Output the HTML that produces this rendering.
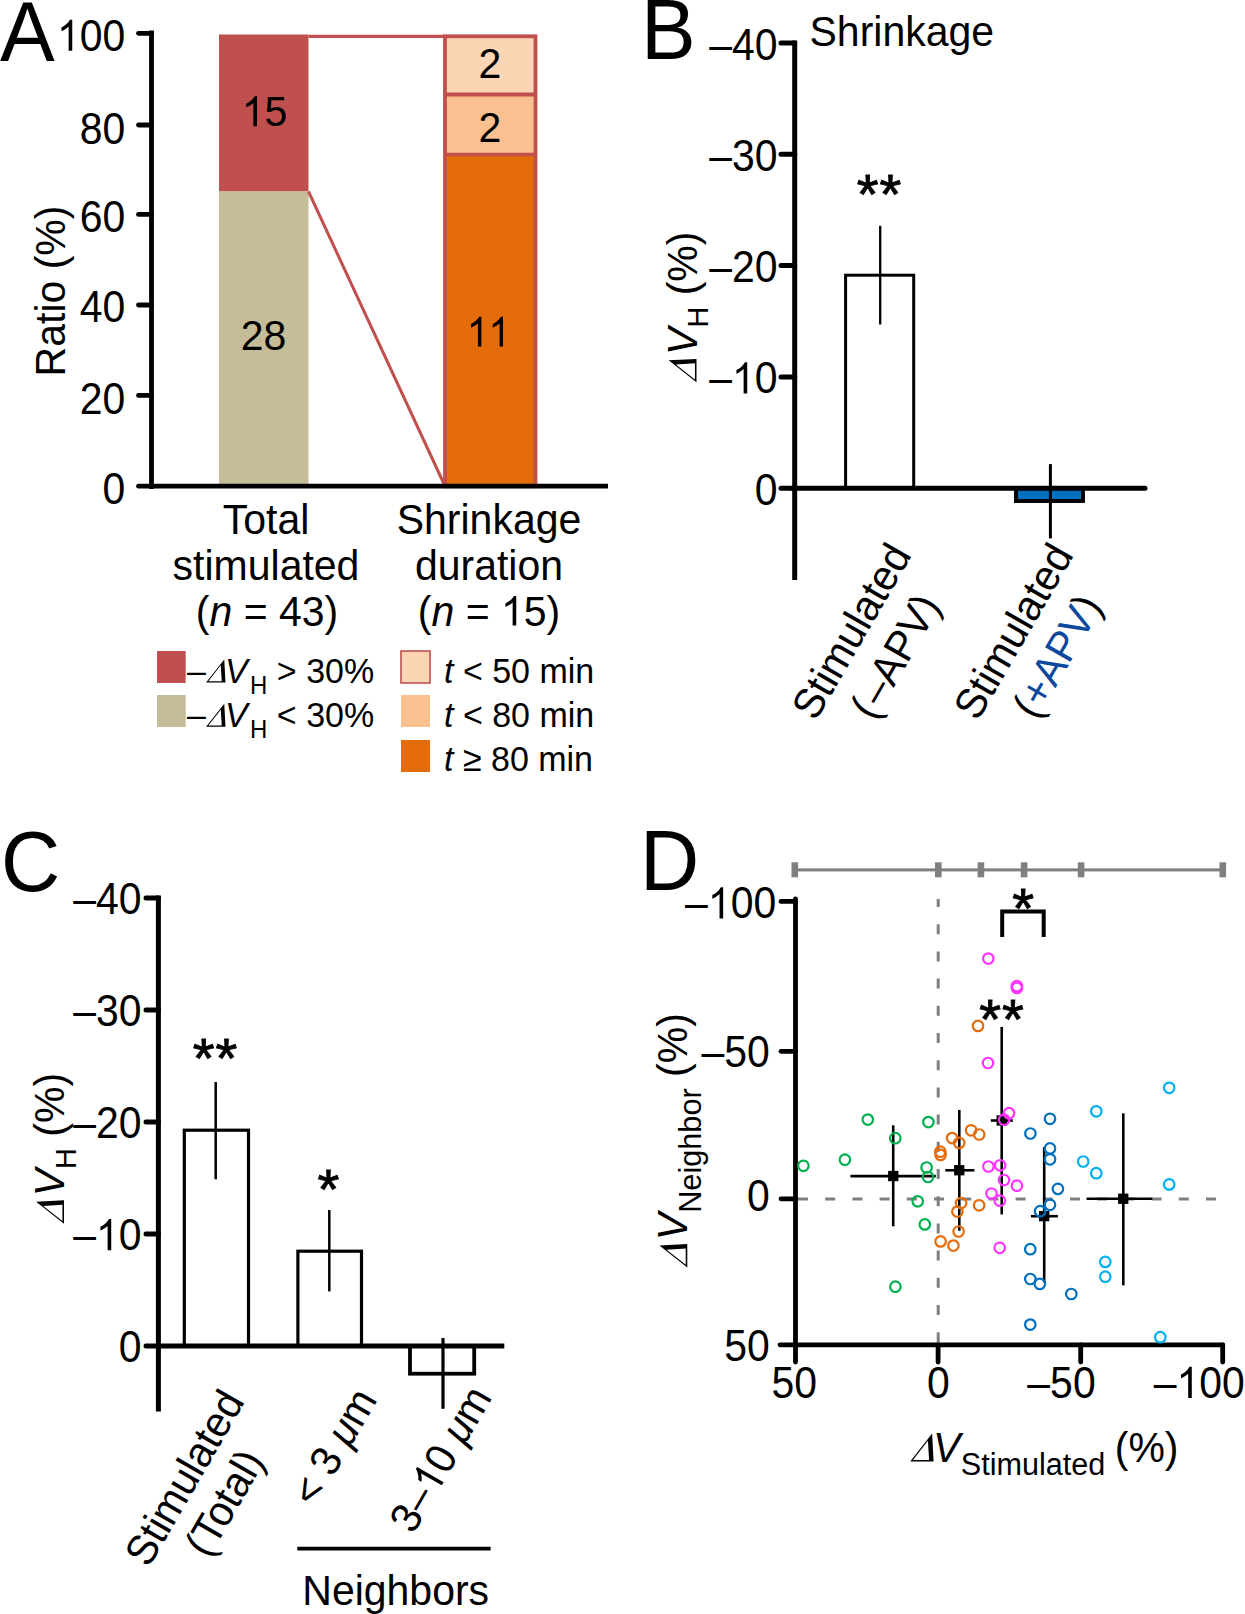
<!DOCTYPE html>
<html><head><meta charset="utf-8">
<style>
html,body{margin:0;padding:0;background:#fff;}
svg{display:block;}
text{font-family:"Liberation Sans",sans-serif;fill:#000;}
.it{font-style:italic;}
.one,.dl{fill-opacity:0;}
.ast{stroke:#000;stroke-width:0.9;}
</style></head>
<body>
<svg width="1245" height="1614" viewBox="0 0 1245 1614">
<rect x="0" y="0" width="1245" height="1614" fill="#fff"/>

<g id="A">
<text transform="translate(0,60.6) scale(1,1.03)" font-size="82">A</text>
<rect x="219" y="34.5" width="89.5" height="157" fill="#C0504D"/>
<rect x="219" y="191.5" width="89.5" height="293" fill="#C4BD97"/>
<rect x="445" y="36.3" width="90.5" height="58.2" fill="#FCD5B5"/>
<rect x="445" y="94.5" width="90.5" height="60" fill="#FAC090"/>
<rect x="445" y="154.5" width="90.5" height="330" fill="#E46C0A"/>
<g stroke="#C0504D" fill="none">
<rect x="445" y="36.3" width="90.5" height="450" stroke-width="3.8"/>
<line x1="445" y1="94.5" x2="535.5" y2="94.5" stroke-width="4"/>
<line x1="445" y1="154.5" x2="535.5" y2="154.5" stroke-width="3.5"/>
<line x1="308.5" y1="36.3" x2="445" y2="36.3" stroke-width="3.2"/>
<line x1="308.5" y1="191.5" x2="444.5" y2="485" stroke-width="3"/>
</g>
<g stroke="#000" stroke-width="4.8" fill="none">
<line x1="151.5" y1="30.6" x2="151.5" y2="488.9"/>
<line x1="149" y1="486.2" x2="608" y2="486.2"/>
<line x1="138.5" y1="33.3" x2="151.5" y2="33.3" stroke-linecap="round"/>
<line x1="138.5" y1="125.0" x2="151.5" y2="125.0" stroke-linecap="round"/>
<line x1="138.5" y1="214.4" x2="151.5" y2="214.4" stroke-linecap="round"/>
<line x1="138.5" y1="305.0" x2="151.5" y2="305.0" stroke-linecap="round"/>
<line x1="138.5" y1="395.4" x2="151.5" y2="395.4" stroke-linecap="round"/>
<line x1="138.5" y1="486.2" x2="151.5" y2="486.2" stroke-linecap="round"/>
</g>
<text transform="translate(125.3,50.8) scale(0.975,1.07)" text-anchor="end" font-size="42"><tspan class="one">1</tspan>00</text>
<text transform="translate(125.3,144.0) scale(0.975,1.07)" text-anchor="end" font-size="42">80</text>
<text transform="translate(125.3,232.2) scale(0.975,1.07)" text-anchor="end" font-size="42">60</text>
<text transform="translate(125.3,322.1) scale(0.975,1.07)" text-anchor="end" font-size="42">40</text>
<text transform="translate(125.3,413.5) scale(0.975,1.07)" text-anchor="end" font-size="42">20</text>
<text transform="translate(125.3,503.8) scale(0.975,1.07)" text-anchor="end" font-size="42">0</text>
<text transform="translate(64.7,291) rotate(-90) scale(1,1.04)" font-size="41" text-anchor="middle">Ratio (%)</text>
<g font-size="41" text-anchor="middle">
<text transform="translate(264.5,126.2) scale(1,1.05)"><tspan class="one">1</tspan>5</text>
<text transform="translate(263.5,350) scale(1,1.05)">28</text>
<text transform="translate(490,78) scale(1,1.05)">2</text>
<text transform="translate(490,142) scale(1,1.05)">2</text>
<text transform="translate(488.5,346.5) scale(0.95,1.05)"><tspan class="one">1</tspan><tspan class="one">1</tspan></text>
<text transform="translate(266,534.3) scale(1,1.04)">Total</text>
<text transform="translate(266,580.2) scale(1,1.04)">stimulated</text>
<text transform="translate(267,625.6) scale(1,1.04)">(<tspan class="it">n</tspan> = 43)</text>
<text transform="translate(489,534.3) scale(1,1.04)">Shrinkage</text>
<text transform="translate(489,580.2) scale(1,1.04)">duration</text>
<text transform="translate(489,625.6) scale(1,1.04)">(<tspan class="it">n</tspan> = <tspan class="one">1</tspan>5)</text>
</g>
<rect x="157" y="651" width="28.7" height="32" fill="#C0504D"/>
<rect x="157" y="695" width="28.7" height="32" fill="#C4BD97"/>
<rect x="401" y="651" width="29" height="32" fill="#FCD5B5" stroke="#C0504D" stroke-width="1.6"/>
<rect x="401" y="695" width="29" height="32" fill="#FAC090"/>
<rect x="401" y="740" width="29" height="32" fill="#E46C0A"/>
<g font-size="34">
<text transform="translate(187,682.5) scale(1,1.04)">–<tspan class="it"><tspan class="dl">Δ</tspan><tspan dx="-3.7">V</tspan></tspan><tspan font-size="24" dx="2.4" dy="10.6">H</tspan><tspan dy="-10.6"> &gt; 30%</tspan></text>
<text transform="translate(187,726.8) scale(1,1.04)">–<tspan class="it"><tspan class="dl">Δ</tspan><tspan dx="-3.7">V</tspan></tspan><tspan font-size="24" dx="2.4" dy="10.6">H</tspan><tspan dy="-10.6"> &lt; 30%</tspan></text>
<text transform="translate(444,682.8) scale(1,1.04)"><tspan class="it">t</tspan> &lt; 50 min</text>
<text transform="translate(444,726.8) scale(1,1.04)"><tspan class="it">t</tspan> &lt; 80 min</text>
<text transform="translate(444,771) scale(1,1.04)"><tspan class="it">t</tspan> ≥ 80 min</text>
</g>
</g>
<g id="B">
<text transform="translate(641,59.3) scale(1,1.03)" font-size="82">B</text>
<text transform="translate(809.5,46.1) scale(1,1.04)" font-size="41">Shrinkage</text>
<rect x="845.6" y="275.2" width="68.1" height="213" fill="#fff" stroke="#000" stroke-width="3"/>
<rect x="1016" y="488.3" width="67" height="12.7" fill="#0070C0" stroke="#000" stroke-width="3.9"/>
<g stroke="#000" stroke-width="5" fill="none">
<line x1="794.7" y1="40.5" x2="794.7" y2="580"/>
<line x1="792" y1="488.3" x2="1145" y2="488.3" stroke-linecap="round"/>
<line x1="781" y1="43.0" x2="794.7" y2="43.0" stroke-linecap="round"/>
<line x1="781" y1="154.3" x2="794.7" y2="154.3" stroke-linecap="round"/>
<line x1="781" y1="265.6" x2="794.7" y2="265.6" stroke-linecap="round"/>
<line x1="781" y1="376.9" x2="794.7" y2="376.9" stroke-linecap="round"/>
<line x1="781" y1="488.3" x2="794.7" y2="488.3" stroke-linecap="round"/>
</g>
<line x1="880.2" y1="225.8" x2="880.2" y2="324.5" stroke="#000" stroke-width="2.3"/>
<line x1="1050.4" y1="464.1" x2="1050.4" y2="538.4" stroke="#000" stroke-width="3"/>
<text class="ast" x="879.5" y="212.9" font-size="56" text-anchor="middle" letter-spacing="1">**</text>
<text transform="translate(777.5,59.5) scale(0.975,1.07)" text-anchor="end" font-size="42">–40</text>
<text transform="translate(777.5,170.8) scale(0.975,1.07)" text-anchor="end" font-size="42">–30</text>
<text transform="translate(777.5,282.1) scale(0.975,1.07)" text-anchor="end" font-size="42">–20</text>
<text transform="translate(777.5,393.4) scale(0.975,1.07)" text-anchor="end" font-size="42">–<tspan class="one">1</tspan>0</text>
<text transform="translate(777.5,504.8) scale(0.975,1.07)" text-anchor="end" font-size="42">0</text>
<text transform="translate(696.5,307) rotate(-90) scale(1,1.04)" font-size="41" text-anchor="middle"><tspan class="it"><tspan class="dl">Δ</tspan>V</tspan><tspan font-size="29" dy="11.5">H</tspan><tspan dy="-11.5"> (%)</tspan></text>
<g font-size="41" text-anchor="middle">
<text transform="translate(864,638.5) rotate(-60) scale(1,1.04)"><tspan x="0" y="0">Stimulated</tspan><tspan x="0.3" y="48.3">(<tspan dx="2.5">–APV</tspan>)</tspan></text>
<text transform="translate(1026,638.5) rotate(-60) scale(1,1.04)"><tspan x="0" y="0">Stimulated</tspan><tspan x="0.3" y="48.3">(<tspan fill="#0B489E">+APV</tspan>)</tspan></text>
</g>
</g>
<g id="C">
<text transform="translate(1,891) scale(1,1.04)" font-size="82">C</text>
<rect x="184.3" y="1130.2" width="64.2" height="216" fill="#fff" stroke="#000" stroke-width="3.2"/>
<rect x="297.9" y="1251.2" width="63.6" height="95" fill="#fff" stroke="#000" stroke-width="3.2"/>
<rect x="410" y="1346" width="64.2" height="27.7" fill="#fff" stroke="#000" stroke-width="3.8"/>
<g stroke="#000" stroke-width="5" fill="none">
<line x1="158.4" y1="895.6" x2="158.4" y2="1411.5"/>
<line x1="156" y1="1346.1" x2="504.3" y2="1346.1"/>
<line x1="146" y1="897.9" x2="158.4" y2="897.9" stroke-linecap="round"/>
<line x1="146" y1="1010.0" x2="158.4" y2="1010.0" stroke-linecap="round"/>
<line x1="146" y1="1121.9" x2="158.4" y2="1121.9" stroke-linecap="round"/>
<line x1="146" y1="1233.9" x2="158.4" y2="1233.9" stroke-linecap="round"/>
<line x1="146" y1="1346.1" x2="158.4" y2="1346.1" stroke-linecap="round"/>
</g>
<line x1="215.7" y1="1082" x2="215.7" y2="1179.3" stroke="#000" stroke-width="2.5"/>
<line x1="329.3" y1="1210" x2="329.3" y2="1291.4" stroke="#000" stroke-width="2.5"/>
<line x1="443" y1="1338" x2="443" y2="1408.8" stroke="#000" stroke-width="3.2"/>
<text class="ast" x="215.5" y="1077" font-size="56" text-anchor="middle" letter-spacing="1">**</text>
<text class="ast" x="328.3" y="1208" font-size="56" text-anchor="middle">*</text>
<text transform="translate(141.5,914.2) scale(0.975,1.07)" text-anchor="end" font-size="42">–40</text>
<text transform="translate(141.5,1026.3) scale(0.975,1.07)" text-anchor="end" font-size="42">–30</text>
<text transform="translate(141.5,1138.2) scale(0.975,1.07)" text-anchor="end" font-size="42">–20</text>
<text transform="translate(141.5,1250.2) scale(0.975,1.07)" text-anchor="end" font-size="42">–<tspan class="one">1</tspan>0</text>
<text transform="translate(141.5,1362.4) scale(0.975,1.07)" text-anchor="end" font-size="42">0</text>
<text transform="translate(64,1148.4) rotate(-90) scale(1,1.04)" font-size="41" text-anchor="middle"><tspan class="it"><tspan class="dl">Δ</tspan>V</tspan><tspan font-size="29" dy="11.5">H</tspan><tspan dy="-11.5"> (%)</tspan></text>
<g font-size="41" text-anchor="middle">
<text transform="translate(197,1485) rotate(-60) scale(1,1.04)"><tspan x="0" y="0">Stimulated</tspan><tspan x="-1.7" y="45.2">(Total)</tspan></text>
<text transform="translate(346.5,1454) rotate(-60) scale(1,1.04)">&lt; 3 <tspan class="it">μ</tspan>m</text>
<text transform="translate(453,1466) rotate(-60) scale(1,1.04)">3–<tspan class="one">1</tspan>0 <tspan class="it">μ</tspan>m</text>
<text transform="translate(395.7,1605.3) scale(1,1.04)">Neighbors</text>
</g>
<line x1="297.3" y1="1548.6" x2="490.6" y2="1548.6" stroke="#000" stroke-width="3.6"/>
</g>
<g id="D">
<text transform="translate(640,890) scale(1,1.03)" font-size="82">D</text>
<g fill="#7F7F7F">
<rect x="794" y="868.4" width="429" height="3"/>
<rect x="791.5" y="862.3" width="6.6" height="15"/>
<rect x="935.0" y="862.3" width="6.6" height="15"/>
<rect x="977.6" y="862.3" width="6.6" height="15"/>
<rect x="1020.8" y="862.3" width="6.6" height="15"/>
<rect x="1077.8" y="862.3" width="6.6" height="15"/>
<rect x="1219.5" y="862.3" width="6.6" height="15"/>
</g>
<g stroke="#7F7F7F" stroke-width="3" fill="none">
<line x1="938.2" y1="899" x2="938.2" y2="1343" stroke-dasharray="10 17.2" stroke-dashoffset="2"/>
<line x1="798" y1="1198.9" x2="1217" y2="1198.9" stroke-dasharray="10 17.2"/>
</g>
<g stroke="#000" stroke-width="4.8" fill="none">
<line x1="795.5" y1="898.8" x2="795.5" y2="1362" stroke-linecap="round"/>
<line x1="780" y1="1344.8" x2="1222.7" y2="1344.8" stroke-linecap="round"/>
<line x1="781" y1="901.4" x2="795.5" y2="901.4" stroke-linecap="round"/>
<line x1="781" y1="1051.3" x2="795.5" y2="1051.3" stroke-linecap="round"/>
<line x1="781" y1="1198.8" x2="795.5" y2="1198.8" stroke-linecap="round"/>
<line x1="938.1" y1="1344.8" x2="938.1" y2="1362" stroke-linecap="round"/>
<line x1="1080.7" y1="1344.8" x2="1080.7" y2="1362" stroke-linecap="round"/>
<line x1="1222.7" y1="1344.8" x2="1222.7" y2="1362" stroke-linecap="round"/>
</g>
<text transform="translate(776.2,918.4) scale(0.975,1.07)" text-anchor="end" font-size="42">–<tspan class="one">1</tspan>00</text>
<text transform="translate(769.8,1066.9) scale(0.975,1.07)" text-anchor="end" font-size="42">–50</text>
<text transform="translate(769.8,1211.0) scale(0.975,1.07)" text-anchor="end" font-size="42">0</text>
<text transform="translate(769.8,1361.0) scale(0.975,1.07)" text-anchor="end" font-size="42">50</text>
<text transform="translate(794.2,1398.0) scale(0.975,1.07)" text-anchor="middle" font-size="42">50</text>
<text transform="translate(938.3,1398.0) scale(0.975,1.07)" text-anchor="middle" font-size="42">0</text>
<text transform="translate(1061.5,1398.0) scale(0.975,1.07)" text-anchor="middle" font-size="42">–50</text>
<text transform="translate(1199.3,1398.0) scale(0.975,1.07)" text-anchor="middle" font-size="42">–<tspan class="one">1</tspan>00</text>
<text transform="translate(687.3,1140.4) rotate(-90) scale(1,1.04)" font-size="41" text-anchor="middle"><tspan class="it"><tspan class="dl">Δ</tspan>V</tspan><tspan font-size="30.7" dy="13.3">Neighbor</tspan><tspan dy="-13.3"> (%)</tspan></text>
<text transform="translate(910,1461.5) scale(1,1.04)" font-size="41"><tspan class="it"><tspan class="dl">Δ</tspan><tspan dx="-4.5">V</tspan></tspan><tspan font-size="30.6" dx="0.5" dy="12.7">Stimulated</tspan><tspan dx="-2" dy="-12.7"> (%)</tspan></text>
<path d="M1002.2 937 V911.6 H1043.7 V937" fill="none" stroke="#000" stroke-width="4"/>
<text class="ast" x="1023.2" y="927" font-size="56" text-anchor="middle">*</text>
<text class="ast" x="1002" y="1037.5" font-size="56" text-anchor="middle" letter-spacing="1">**</text>
<g stroke="#000" stroke-width="2.6" fill="none"><line x1="893.2" y1="1125.3" x2="893.2" y2="1226.3"/><line x1="850.4" y1="1176.1" x2="935.8" y2="1176.1"/><rect x="888.1" y="1170.9" width="10.3" height="10.3" fill="#000" stroke="none"/><line x1="959.3" y1="1109.9" x2="959.3" y2="1230.8"/><line x1="945.3" y1="1170.3" x2="974.4" y2="1170.3"/><rect x="954.1" y="1165.1" width="10.3" height="10.3" fill="#000" stroke="none"/><line x1="1001.7" y1="1026.9" x2="1001.7" y2="1214.4"/><line x1="990.8" y1="1120.5" x2="1012.8" y2="1120.5"/><rect x="996.6" y="1115.3" width="10.3" height="10.3" fill="#000" stroke="none"/><line x1="1044.2" y1="1147.1" x2="1044.2" y2="1282.3"/><line x1="1030.9" y1="1216.2" x2="1057.9" y2="1216.2"/><rect x="1039.0" y="1211.0" width="10.3" height="10.3" fill="#000" stroke="none"/><line x1="1123.3" y1="1113.3" x2="1123.3" y2="1285.3"/><line x1="1086.5" y1="1198.8" x2="1152.3" y2="1198.8"/><rect x="1118.1" y="1193.6" width="10.3" height="10.3" fill="#000" stroke="none"/></g>
<g fill="none" stroke="#00B050" stroke-width="2.2"><circle cx="803.4" cy="1165.8" r="5.25"/><circle cx="844.9" cy="1159.7" r="5.25"/><circle cx="867.8" cy="1119.6" r="5.25"/><circle cx="895.3" cy="1138.2" r="5.25"/><circle cx="928.4" cy="1122.1" r="5.25"/><circle cx="926.6" cy="1167.5" r="5.25"/><circle cx="928.0" cy="1177.0" r="5.25"/><circle cx="917.7" cy="1201.3" r="5.25"/><circle cx="924.8" cy="1224.4" r="5.25"/><circle cx="895.4" cy="1286.7" r="5.25"/></g>
<g fill="none" stroke="#E46C0A" stroke-width="2.2"><circle cx="978.0" cy="1025.9" r="5.25"/><circle cx="952.1" cy="1138.1" r="5.25"/><circle cx="959.2" cy="1142.9" r="5.25"/><circle cx="971.1" cy="1130.3" r="5.25"/><circle cx="979.2" cy="1134.5" r="5.25"/><circle cx="940.3" cy="1151.7" r="5.25"/><circle cx="940.6" cy="1154.9" r="5.25"/><circle cx="961.1" cy="1203.1" r="5.25"/><circle cx="957.4" cy="1211.6" r="5.25"/><circle cx="979.1" cy="1205.3" r="5.25"/><circle cx="958.6" cy="1231.5" r="5.25"/><circle cx="940.6" cy="1241.4" r="5.25"/><circle cx="953.4" cy="1245.6" r="5.25"/></g>
<g fill="none" stroke="#FF33FF" stroke-width="2.2"><circle cx="988.3" cy="958.6" r="5.25"/><circle cx="1016.9" cy="986.0" r="5.25"/><circle cx="1016.9" cy="988.0" r="5.25"/><circle cx="988.0" cy="1063.0" r="5.25"/><circle cx="1009.0" cy="1113.2" r="5.25"/><circle cx="1004.1" cy="1119.7" r="5.25"/><circle cx="988.4" cy="1166.5" r="5.25"/><circle cx="1000.1" cy="1165.3" r="5.25"/><circle cx="1004.0" cy="1180.0" r="5.25"/><circle cx="1016.9" cy="1185.7" r="5.25"/><circle cx="991.5" cy="1193.5" r="5.25"/><circle cx="999.8" cy="1200.7" r="5.25"/><circle cx="999.7" cy="1247.8" r="5.25"/></g>
<g fill="none" stroke="#0070C0" stroke-width="2.2"><circle cx="1050.0" cy="1118.8" r="5.25"/><circle cx="1030.4" cy="1133.5" r="5.25"/><circle cx="1050.0" cy="1148.4" r="5.25"/><circle cx="1050.0" cy="1159.3" r="5.25"/><circle cx="1057.9" cy="1188.9" r="5.25"/><circle cx="1050.0" cy="1204.8" r="5.25"/><circle cx="1040.1" cy="1211.2" r="5.25"/><circle cx="1030.3" cy="1249.2" r="5.25"/><circle cx="1030.3" cy="1279.0" r="5.25"/><circle cx="1039.8" cy="1283.9" r="5.25"/><circle cx="1071.3" cy="1294.0" r="5.25"/><circle cx="1030.3" cy="1324.6" r="5.25"/></g>
<g fill="none" stroke="#00B0F0" stroke-width="2.2"><circle cx="1169.2" cy="1087.8" r="5.25"/><circle cx="1096.3" cy="1111.3" r="5.25"/><circle cx="1083.2" cy="1161.5" r="5.25"/><circle cx="1096.3" cy="1173.2" r="5.25"/><circle cx="1169.2" cy="1184.4" r="5.25"/><circle cx="1105.3" cy="1261.9" r="5.25"/><circle cx="1105.3" cy="1276.7" r="5.25"/><circle cx="1160.3" cy="1337.2" r="5.25"/></g>
</g>
<g fill="#000"><path transform="matrix(0.9750,0.0000,0.0000,1.0700,125.30,50.80) translate(-70.07,0.00) scale(0.02051,-0.01979)" d="M763 0L583 0L583 1147Q518 1085 412.5 1023Q307 961 223 930L223 1104Q375 1175 488 1276Q601 1377 648 1472L763 1472Z"/><path transform="matrix(1.0000,0.0000,0.0000,1.0500,264.50,126.20) translate(-22.80,0.00) scale(0.02002,-0.01932)" d="M763 0L583 0L583 1147Q518 1085 412.5 1023Q307 961 223 930L223 1104Q375 1175 488 1276Q601 1377 648 1472L763 1472Z"/><path transform="matrix(0.9500,0.0000,0.0000,1.0500,488.50,346.50) translate(-22.82,0.00) scale(0.02002,-0.01932)" d="M763 0L583 0L583 1147Q518 1085 412.5 1023Q307 961 223 930L223 1104Q375 1175 488 1276Q601 1377 648 1472L763 1472Z"/><path transform="matrix(0.9500,0.0000,0.0000,1.0500,488.50,346.50) translate(0.00,0.00) scale(0.02002,-0.01932)" d="M763 0L583 0L583 1147Q518 1085 412.5 1023Q307 961 223 930L223 1104Q375 1175 488 1276Q601 1377 648 1472L763 1472Z"/><path transform="matrix(1.0000,0.0000,0.0000,1.0400,489.00,625.60) translate(11.96,0.00) scale(0.02002,-0.01932)" d="M763 0L583 0L583 1147Q518 1085 412.5 1023Q307 961 223 930L223 1104Q375 1175 488 1276Q601 1377 648 1472L763 1472Z"/><path fill-rule="evenodd" transform="matrix(1.0000,0.0000,0.0000,1.0400,187.00,682.50) translate(18.91,0.00) scale(34.000,32.692)" d="M0.005 0L0.54 -0.68L0.575 0ZM0.072 -0.038L0.466 -0.038L0.437 -0.505Z"/><path fill-rule="evenodd" transform="matrix(1.0000,0.0000,0.0000,1.0400,187.00,726.80) translate(18.91,0.00) scale(34.000,32.692)" d="M0.005 0L0.54 -0.68L0.575 0ZM0.072 -0.038L0.466 -0.038L0.437 -0.505Z"/><path transform="matrix(0.9750,0.0000,0.0000,1.0700,777.50,393.40) translate(-46.71,0.00) scale(0.02051,-0.01979)" d="M763 0L583 0L583 1147Q518 1085 412.5 1023Q307 961 223 930L223 1104Q375 1175 488 1276Q601 1377 648 1472L763 1472Z"/><path fill-rule="evenodd" transform="matrix(0.0000,-1.0000,1.0400,0.0000,696.50,307.00) translate(-75.47,0.00) scale(41.000,39.423)" d="M0.005 0L0.54 -0.68L0.575 0ZM0.072 -0.038L0.466 -0.038L0.437 -0.505Z"/><path transform="matrix(0.9750,0.0000,0.0000,1.0700,141.50,1250.20) translate(-46.71,0.00) scale(0.02051,-0.01979)" d="M763 0L583 0L583 1147Q518 1085 412.5 1023Q307 961 223 930L223 1104Q375 1175 488 1276Q601 1377 648 1472L763 1472Z"/><path fill-rule="evenodd" transform="matrix(0.0000,-1.0000,1.0400,0.0000,64.00,1148.40) translate(-75.47,0.00) scale(41.000,39.423)" d="M0.005 0L0.54 -0.68L0.575 0ZM0.072 -0.038L0.466 -0.038L0.437 -0.505Z"/><path transform="matrix(0.5000,-0.8660,0.9007,0.5200,453.00,1466.00) translate(-34.01,0.00) scale(0.02002,-0.02002)" d="M763 0L583 0L583 1147Q518 1085 412.5 1023Q307 961 223 930L223 1104Q375 1175 488 1276Q601 1377 648 1472L763 1472Z"/><path transform="matrix(0.9750,0.0000,0.0000,1.0700,776.20,918.40) translate(-70.07,0.00) scale(0.02051,-0.01979)" d="M763 0L583 0L583 1147Q518 1085 412.5 1023Q307 961 223 930L223 1104Q375 1175 488 1276Q601 1377 648 1472L763 1472Z"/><path transform="matrix(0.9750,0.0000,0.0000,1.0700,1199.30,1398.00) translate(-23.36,0.00) scale(0.02051,-0.01979)" d="M763 0L583 0L583 1147Q518 1085 412.5 1023Q307 961 223 930L223 1104Q375 1175 488 1276Q601 1377 648 1472L763 1472Z"/><path fill-rule="evenodd" transform="matrix(0.0000,-1.0000,1.0400,0.0000,687.30,1140.40) translate(-127.27,0.00) scale(41.000,39.423)" d="M0.005 0L0.54 -0.68L0.575 0ZM0.072 -0.038L0.466 -0.038L0.437 -0.505Z"/><path fill-rule="evenodd" transform="matrix(1.0000,0.0000,0.0000,1.0400,910.00,1461.50) translate(0.00,0.00) scale(41.000,39.423)" d="M0.005 0L0.54 -0.68L0.575 0ZM0.072 -0.038L0.466 -0.038L0.437 -0.505Z"/></g>
</svg>
</body></html>
